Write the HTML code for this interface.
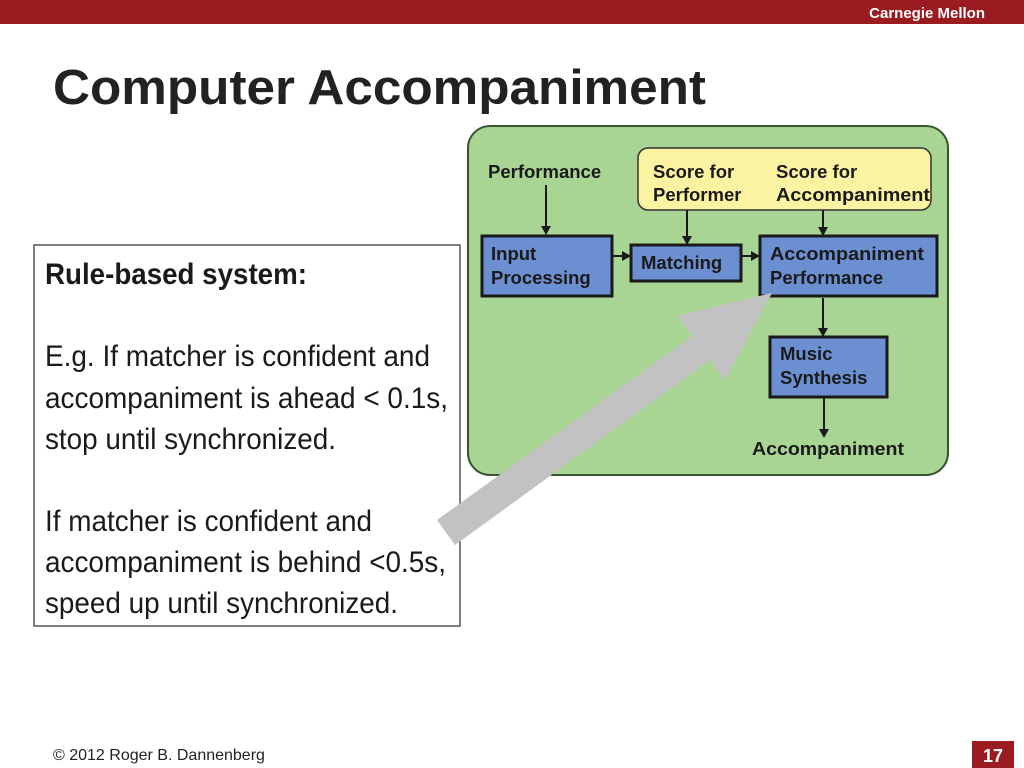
<!DOCTYPE html>
<html><head><meta charset="utf-8"><style>
html,body{margin:0;padding:0;background:#fff;}
svg{display:block;}
text{font-family:"Liberation Sans",Arial,sans-serif;}
</style></head><body>
<svg width="1024" height="768" viewBox="0 0 1024 768" xmlns="http://www.w3.org/2000/svg">
<rect x="0" y="0" width="1024" height="24" fill="#9b1c20"/>
<text x="985" y="18" font-size="15" font-weight="bold" fill="#fff" text-anchor="end">Carnegie Mellon</text>
<text x="53" y="104" font-size="49" font-weight="bold" fill="#222" textLength="653" lengthAdjust="spacingAndGlyphs">Computer Accompaniment</text>

<!-- green panel -->
<rect x="468" y="126" width="480" height="349" rx="22" fill="#a8d494" stroke="#3a5530" stroke-width="2"/>
<rect x="638" y="148" width="293" height="62" rx="10" fill="#fbf3a2" stroke="#333" stroke-width="1.5"/>
<g font-size="18.5" font-weight="bold" fill="#1a1a1a">
<text x="488" y="178">Performance</text>
<text x="653" y="178">Score for</text>
<text x="653" y="201">Performer</text>
<text x="776" y="178">Score for</text>
<text x="776" y="201" textLength="154" lengthAdjust="spacingAndGlyphs">Accompaniment</text>
</g>
<g fill="#6b8fd0" stroke="#1a1a1a" stroke-width="3">
<rect x="482" y="236" width="130" height="60"/>
<rect x="631" y="245" width="110" height="36"/>
<rect x="760" y="236" width="177" height="60"/>
<rect x="770" y="337" width="117" height="60"/>
</g>
<g font-size="18.5" font-weight="bold" fill="#1a1a1a">
<text x="491" y="260">Input</text>
<text x="491" y="284">Processing</text>
<text x="641" y="269">Matching</text>
<text x="770" y="260" textLength="154" lengthAdjust="spacingAndGlyphs">Accompaniment</text>
<text x="770" y="284">Performance</text>
<text x="780" y="360">Music</text>
<text x="780" y="384">Synthesis</text>
<text x="752" y="455" textLength="152" lengthAdjust="spacingAndGlyphs">Accompaniment</text>
</g>
<g stroke="#1a1a1a" stroke-width="2" fill="none">
<line x1="546" y1="185" x2="546" y2="226"/>
<line x1="687" y1="210" x2="687" y2="236"/>
<line x1="823" y1="210" x2="823" y2="227"/>
<line x1="613" y1="256" x2="622" y2="256"/>
<line x1="742" y1="256" x2="751" y2="256"/>
<line x1="823" y1="298" x2="823" y2="328"/>
<line x1="824" y1="398" x2="824" y2="429"/>
</g>
<g fill="#1a1a1a">
<polygon points="541,226 551,226 546,235"/>
<polygon points="682,236 692,236 687,245"/>
<polygon points="818,227 828,227 823,236"/>
<polygon points="622,251 622,261 631,256"/>
<polygon points="751,251 751,261 760,256"/>
<polygon points="818,328 828,328 823,337"/>
<polygon points="819,429 829,429 824,438"/>
</g>

<!-- text box -->
<rect x="34" y="245" width="426" height="381" fill="#fff" stroke="#555" stroke-width="1.5"/>
<g font-size="30" fill="#1a1a1a">
<text x="45" y="284" font-weight="bold" textLength="262" lengthAdjust="spacingAndGlyphs">Rule-based system:</text>
<text x="45" y="366" textLength="385" lengthAdjust="spacingAndGlyphs">E.g. If matcher is confident and</text>
<text x="45" y="408" textLength="403" lengthAdjust="spacingAndGlyphs">accompaniment is ahead &lt; 0.1s,</text>
<text x="45" y="449" textLength="291" lengthAdjust="spacingAndGlyphs">stop until synchronized.</text>
<text x="45" y="531" textLength="327" lengthAdjust="spacingAndGlyphs">If matcher is confident and</text>
<text x="45" y="572" textLength="401" lengthAdjust="spacingAndGlyphs">accompaniment is behind &lt;0.5s,</text>
<text x="45" y="613" textLength="353" lengthAdjust="spacingAndGlyphs">speed up until synchronized.</text>
</g>

<!-- gray arrow -->
<polygon points="437,520 692,336 677,316 772,293 725,380 710,360 455,545" fill="#c2c2c2"/>

<text x="53" y="760" font-size="16" fill="#222">© 2012 Roger B. Dannenberg</text>
<rect x="972" y="741" width="42" height="27" fill="#9b1c20"/>
<text x="993" y="762" font-size="18" font-weight="bold" fill="#fff" text-anchor="middle">17</text>
</svg>
</body></html>
